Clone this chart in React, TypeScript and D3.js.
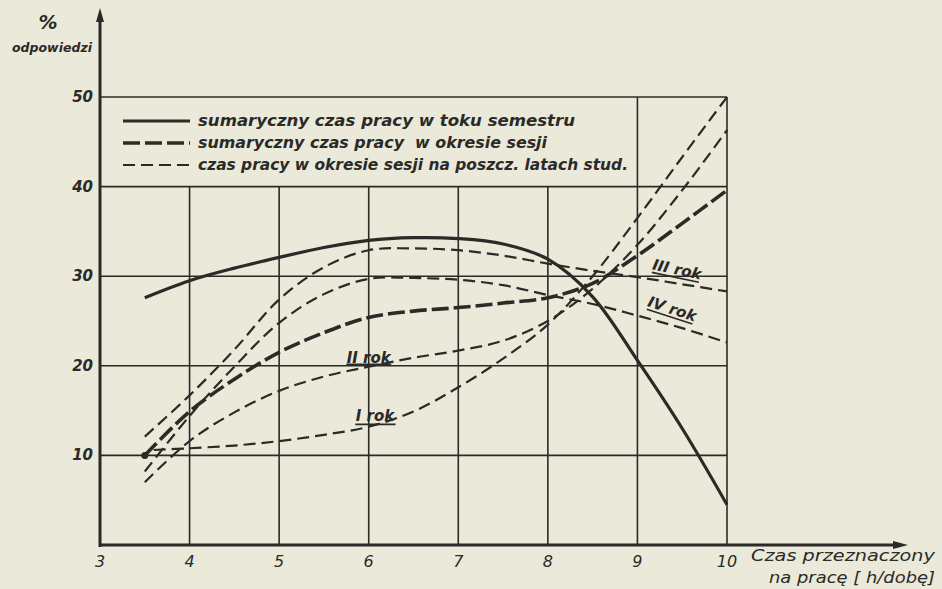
import React from "react";
import * as d3 from "d3";

// ---- data ----
const xTicks = [3, 4, 5, 6, 7, 8, 9, 10];
const yTicks = [10, 20, 30, 40, 50];
const hours = [3.5, 4, 4.5, 5, 5.5, 6, 6.5, 7, 7.5, 8, 8.5, 9, 9.5, 10];
const hoursI = [3.6, 4, 4.5, 5, 5.5, 6, 6.5, 7, 7.5, 8, 8.5, 9, 9.5, 10];
const semestr = [27.6, 29.5, 30.9, 32.1, 33.2, 34.0, 34.3, 34.2, 33.6, 31.9, 27.7, 20.6, 13.0, 4.5];
const sesja = [10.0, 14.9, 18.5, 21.5, 23.7, 25.4, 26.1, 26.5, 27.0, 27.6, 29.2, 32.3, 35.9, 39.6];
const rokI = [10.6, 10.8, 11.1, 11.6, 12.3, 13.2, 14.9, 17.6, 20.8, 24.6, 30.0, 36.5, 43.3, 50.0];
const rokII = [7.0, 11.6, 14.8, 17.2, 18.8, 19.9, 20.9, 21.7, 22.8, 25.0, 28.6, 33.5, 39.6, 46.3];
const rokIII = [12.1, 16.7, 21.8, 27.4, 31.0, 32.9, 33.1, 32.9, 32.3, 31.4, 30.6, 29.9, 29.1, 28.3];
const rokIV = [8.2, 14.4, 19.9, 24.8, 28.0, 29.7, 29.8, 29.6, 29.0, 27.9, 26.9, 25.6, 24.2, 22.6];
const legendLabels = [
  "sumaryczny czas pracy w toku semestru",
  "sumaryczny czas pracy\u00a0 w okresie sesji",
  "czas pracy w okresie sesji na poszcz. latach stud.",
];
const yearLabels = ["I rok", "II rok", "III rok", "IV rok"];

const INK = "#2b2a27";
const BG = "#eae9da";
const FONT = "'DejaVu Sans', Verdana, sans-serif";

export default function App() {
  const x = d3.scaleLinear().domain([3, 10]).range([100, 727]);
  const y = d3.scaleLinear().domain([0, 50]).range([545, 97]);
  const line = (xs: number[], ys: number[]) =>
    d3
      .line<number>()
      .x((_, i) => x(xs[i]))
      .y((v) => y(v))
      .curve(d3.curveCatmullRom.alpha(0.5))(ys) as string;

  const legendY = [121, 143, 165];
  const legendW = [377, 349, 430];
  const legendStyles = [
    { w: 3.2, dash: "none" },
    { w: 3.6, dash: "17 5" },
    { w: 2.2, dash: "12 6" },
  ];

  return (
    <svg
      width={942}
      height={589}
      style={{ position: "absolute", left: 0, top: 0, background: BG }}
    >
      <rect x={0} y={0} width={942} height={589} fill={BG} />
      {/* grid */}
      <g stroke={INK} strokeWidth={1.6} fill="none">
        {yTicks.map((t) => (
          <line key={"h" + t} x1={x(3)} x2={x(10)} y1={y(t)} y2={y(t)} />
        ))}
        {xTicks
          .filter((t) => t > 3)
          .map((t) => (
            <line
              key={"v" + t}
              x1={x(t)}
              x2={x(t)}
              y1={y(0)}
              y2={t >= 9 ? y(50) : y(40)}
            />
          ))}
      </g>
      {/* axes */}
      <g stroke={INK} fill="none">
        <line x1={x(3)} x2={900} y1={y(0)} y2={y(0)} strokeWidth={3} />
        <line x1={x(3)} x2={x(3)} y1={y(0) + 2} y2={14} strokeWidth={3} />
      </g>
      <path d={`M908,${y(0)} L893,${y(0) - 4} L893,${y(0) + 4} Z`} fill={INK} />
      <path d={`M${x(3)},8 L${x(3) - 4},22 L${x(3) + 4},22 Z`} fill={INK} />

      {/* axis tick labels */}
      <g fill={INK} fontFamily={FONT} fontStyle="italic" fontWeight="bold" fontSize={15}>
        {yTicks.map((t) => (
          <text key={"yl" + t} x={x(3) - 7} y={y(t) + 5} textAnchor="end">
            {t}
          </text>
        ))}
        {xTicks.map((t) => (
          <text key={"xl" + t} x={x(t)} y={567} textAnchor="middle" fontWeight="normal" fontSize={16}>
            {t}
          </text>
        ))}
      </g>
      <text x={48} y={29} fill={INK} fontFamily={FONT} fontStyle="italic" fontWeight="bold" fontSize={19} textAnchor="middle">
        %
      </text>
      <text x={52} y={52} fill={INK} fontFamily={FONT} fontStyle="italic" fontWeight="bold" fontSize={13} textAnchor="middle" textLength={80} lengthAdjust="spacingAndGlyphs">
        odpowiedzi
      </text>
      <g fill={INK} fontFamily={FONT} fontStyle="italic" fontSize={15}>
        <text x={751} y={561} textLength={184} lengthAdjust="spacingAndGlyphs">Czas przeznaczony</text>
        <text x={769} y={583} textLength={166} lengthAdjust="spacingAndGlyphs">na pracę [ h/dobę]</text>
      </g>

      {/* legend */}
      {legendLabels.map((lab, i) => (
        <g key={"lg" + i}>
          <line
            x1={123}
            x2={190}
            y1={legendY[i]}
            y2={legendY[i]}
            stroke={INK}
            strokeWidth={legendStyles[i].w}
            strokeDasharray={legendStyles[i].dash}
          />
          <text
            x={198}
            y={legendY[i] + 5}
            fill={INK}
            fontFamily={FONT}
            fontStyle="italic"
            fontWeight="bold"
            fontSize={15}
            textLength={legendW[i]}
            lengthAdjust="spacingAndGlyphs"
          >
            {lab}
          </text>
        </g>
      ))}

      {/* curves */}
      <g fill="none" stroke={INK} strokeLinecap="butt">
        <path d={line(hoursI, rokI)} strokeWidth={2.2} strokeDasharray="12 6" />
        <path d={line(hours, rokII)} strokeWidth={2.2} strokeDasharray="12 6" />
        <path d={line(hours, rokIII)} strokeWidth={2.2} strokeDasharray="12 6" />
        <path d={line(hours, rokIV)} strokeWidth={2.2} strokeDasharray="12 6" />
        <path d={line(hours, sesja)} strokeWidth={3.6} strokeDasharray="17 5" />
        <path d={line(hours, semestr)} strokeWidth={3.2} />
      </g>
      <circle cx={x(3.5)} cy={y(10)} r={3.5} fill={INK} />

      {/* year labels */}
      <g fill={INK} fontFamily={FONT} fontStyle="italic" fontWeight="bold" fontSize={15}>
        <text x={x(6.0)} y={y(20) - 3} textAnchor="middle">{yearLabels[1]}</text>
        <line x1={x(5.75)} x2={x(6.25)} y1={y(20) - 1} y2={y(20) - 1} stroke={INK} strokeWidth={2.5} />
        <text x={x(6.07)} y={y(13.8)} textAnchor="middle">{yearLabels[0]}</text>
        <line x1={x(5.85)} x2={x(6.3)} y1={y(13.8) + 3} y2={y(13.8) + 3} stroke={INK} strokeWidth={1.8} />
        <text transform={`translate(${x(9.43)},${y(30.2)}) rotate(12)`} textAnchor="middle">{yearLabels[2]}</text>
        <line transform={`translate(${x(9.43)},${y(30.2)}) rotate(12)`} x1={-24} x2={24} y1={3} y2={3} stroke={INK} strokeWidth={1.6} />
        <text transform={`translate(${x(9.37)},${y(25.8)}) rotate(18)`} textAnchor="middle">{yearLabels[3]}</text>
        <line transform={`translate(${x(9.37)},${y(25.8)}) rotate(18)`} x1={-24} x2={24} y1={3} y2={3} stroke={INK} strokeWidth={1.6} />
      </g>
    </svg>
  );
}
